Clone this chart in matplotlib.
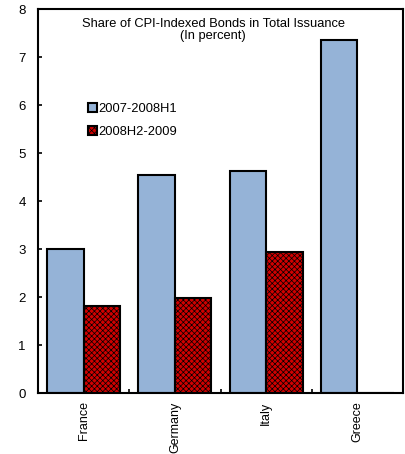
import numpy as np
import matplotlib.pyplot as plt

plt.rcParams['font.family'] = ['Liberation Sans', 'DejaVu Sans']
plt.rcParams['hatch.linewidth'] = 0.5

countries = ['France', 'Germany', 'Italy', 'Greece']
period1 = [3.0, 4.54, 4.62, 7.35]
period2 = [1.81, 1.98, 2.94, 0.0]
labels = ['2007-2008H1', '2008H2-2009']

fig = plt.figure(figsize=(4.05, 4.54), dpi=100)
ax = fig.add_axes([0.094, 0.134, 0.901, 0.846])

x = np.arange(len(countries))
w = 0.4
ax.bar(x - w / 2, period1, w, color='#95B3D7', edgecolor='black', linewidth=1.5, label=labels[0])
ax.bar(x + w / 2, period2, w, color='#D00000', edgecolor='black', linewidth=1.5,
       hatch='xxxxxx', label=labels[1])

ax.set_xlim(-0.5, 3.5)
ax.set_ylim(0, 8)
ax.set_yticks(range(0, 9))
ax.tick_params(axis='y', direction='in', length=3, width=1.2, labelsize=9.5, pad=9)
ax.set_xticks(x)
ax.set_xticklabels(countries, rotation=90, fontsize=9)
ax.tick_params(axis='x', length=0, pad=6)
ax.set_xticks(x[:-1] + 0.5, minor=True)
ax.tick_params(axis='x', which='minor', direction='in', length=3, width=1.2)
for s in ax.spines.values():
    s.set_linewidth(1.5)

ax.text(0.48, 0.978, 'Share of CPI-Indexed Bonds in Total Issuance\n(In percent)',
        transform=ax.transAxes, ha='center', va='top', fontsize=9.3, linespacing=1.0)

ax.legend(loc='upper left', bbox_to_anchor=(0.12, 0.773), frameon=False, fontsize=9.3,
          handlelength=0.7, handleheight=0.7, handletextpad=0.05, labelspacing=0.85,
          borderpad=0)

fig.savefig('out.png', dpi=100)
